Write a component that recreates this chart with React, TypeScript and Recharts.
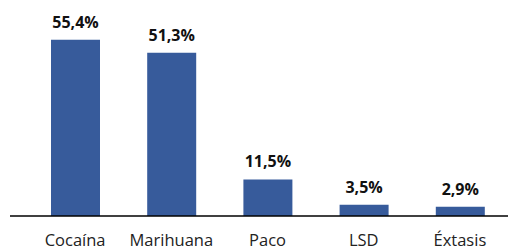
import { BarChart, Bar, XAxis, YAxis, LabelList } from 'recharts';

const categories = ['Cocaína', 'Marihuana', 'Paco', 'LSD', 'Éxtasis'];
const values = [55.4, 51.3, 11.5, 3.5, 2.9];
const valueLabels = ['55,4%', '51,3%', '11,5%', '3,5%', '2,9%'];

const data = categories.map((name, i) => ({ name, value: values[i], label: valueLabels[i] }));

const FONT = '"Open Sans", sans-serif';

const renderLabel = (props: any) => {
    const { x, y, width, index } = props;
    return (
        <text x={x + width / 2} y={y - 12} textAnchor="middle" fontFamily={FONT} fontSize={16} fontWeight="bold" fill="#111">
            {data[index].label}
        </text>
    );
};

const renderTick = (props: any) => {
    const { x, y, payload } = props;
    return (
        <text x={x} y={y + 22} textAnchor="middle" fontFamily={FONT} fontSize={16.5} fill="#222">
            {payload.value}
        </text>
    );
};

const App = () => {
    return (
        <div style={{ position: 'fixed', left: 0, top: 0, width: 518, height: 250, background: '#fff' }}>
            <BarChart width={518} height={250} data={data} margin={{ top: 25, right: 10, bottom: 4, left: 10 }}>
                <YAxis hide domain={[0, 60]} />
                <XAxis
                    dataKey="name"
                    height={30}
                    padding={{ left: 17, right: 0 }}
                    tickLine={false}
                    axisLine={{ stroke: '#000', strokeWidth: 1.5 }}
                    tick={renderTick}
                    interval={0}
                />
                <Bar dataKey="value" fill="#375B9B" barSize={49} isAnimationActive={false}>
                    <LabelList dataKey="value" content={renderLabel} />
                </Bar>
            </BarChart>
        </div>
    );
};

export default App;
